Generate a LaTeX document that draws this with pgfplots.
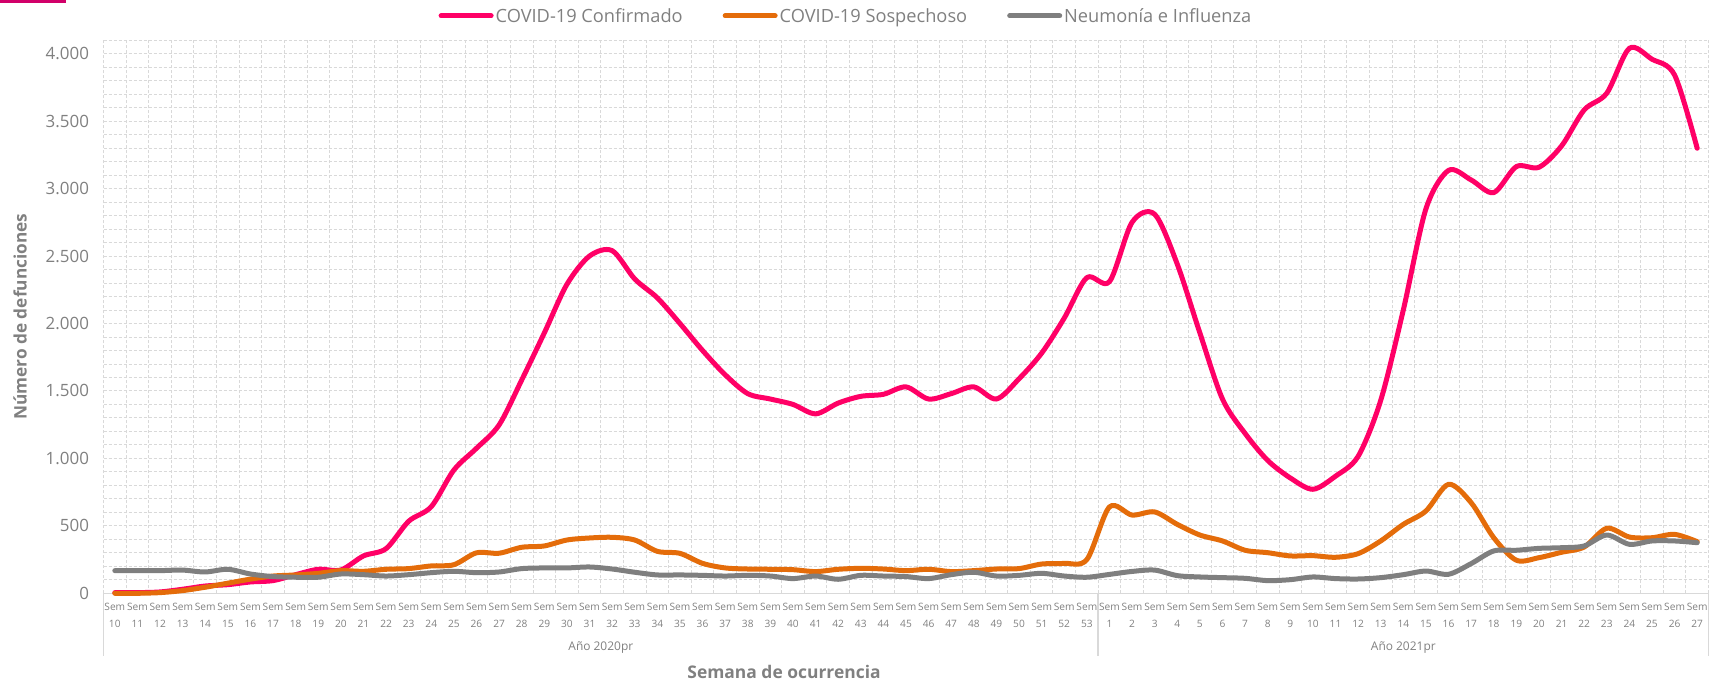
\documentclass[border=0pt]{standalone}
\usepackage{fontspec}
\setmainfont{Open Sans}
\usepackage{pgfplots}
\usepackage{pgfplotstable}
\pgfplotsset{compat=1.18}
\definecolor{confc}{HTML}{FF0066}
\definecolor{sospc}{HTML}{E46C0A}
\definecolor{neumc}{HTML}{7F7F7F}
\definecolor{txtc}{HTML}{808080}
\definecolor{gridc}{HTML}{D9D9D9}
\definecolor{topbar}{HTML}{D10069}

\pgfplotstableread{
x conf sosp neum
0 5 0 168
1 5 0 168
2 10 5 168
3 30 20 172
4 54 45 158
5 64 75 178
6 84 105 143
7 94 128 124
8 138 136 119
9 178 148 119
10 173 168 143
11 277 163 138
12 331 178 128
13 534 183 138
14 642 203 153
15 914 212 163
16 1075 300 153
17 1248 297 158
18 1581 341 183
19 1930 351 188
20 2290 395 188
21 2500 410 195
22 2540 415 180
23 2330 395 156
24 2190 311 136
25 2000 296 136
26 1800 222 133
27 1620 188 128
28 1480 180 133
29 1440 178 128
30 1400 175 109
31 1330 161 128
32 1410 178 104
33 1460 185 133
34 1475 180 128
35 1530 168 124
36 1440 178 109
37 1480 161 138
38 1530 168 156
39 1440 180 128
40 1590 183 133
41 1780 217 148
42 2040 222 128
43 2340 250 119
44 2310 640 140
45 2750 580 162
46 2810 603 172
47 2440 511 131
48 1930 432 121
49 1440 388 116
50 1185 319 111
51 985 301 94
52 855 277 101
53 771 279 121
54 868 267 109
55 1015 294 106
56 1430 388 116
57 2100 511 138
58 2850 610 165
59 3135 808 141
60 3064 672 220
61 2970 412 314
62 3163 245 319
63 3158 264 333
64 3316 304 338
65 3583 343 351
66 3707 482 432
67 4040 417 363
68 3959 412 388
69 3842 437 388
70 3299 383 375
}\datatable

\begin{document}
\begin{tikzpicture}[x=1bp,y=1bp]
\useasboundingbox (0,0) rectangle (1709,682);
\fill[topbar] (0,679) rectangle (66,682);
\begin{axis}[
  at={(103.5bp,88.7bp)}, anchor=south west,
  scale only axis, width=1605bp, height=553.1bp,
  xmin=-0.5, xmax=70.5, ymin=0, ymax=4100,
  clip=false,
  axis x line*=bottom, axis y line*=left,
  axis line style={-},
  x axis line style={draw=gridc, line width=1.5bp},
  y axis line style={draw=none},
  xtick={0,1,...,70},
  minor xtick={-0.5,0.5,...,70.5},
  ytick={0,500,...,4000},
  minor ytick={0,100,...,4100},
  major tick length=0pt, minor tick length=0pt,
  xminorgrids=true, yminorgrids=true, ymajorgrids=true, xmajorgrids=false,
  grid style={draw=gridc, dash pattern=on 3bp off 2bp, line width=0.9bp},
  minor grid style={draw=gridc, dash pattern=on 3bp off 2bp, line width=0.9bp},
  scaled y ticks=false,
  /pgf/number format/1000 sep={.},
  /pgf/number format/assume math mode=true,
  every y tick label/.append style={font=\fontsize{17}{20}\selectfont, text=txtc, xshift=-11bp},
  xticklabel={Sem\\\pgfmathtruncatemacro{\wk}{\tick<43.5 ? \tick+10 : \tick-43}\wk},
  every x tick label/.append style={font=\fontsize{10.2}{16.5}\selectfont, text=txtc, align=center, inner sep=2bp, yshift=-8bp},
  ylabel={Número de defunciones},
  ylabel style={at={(axis description cs:-0.052,0.5)}, anchor=center, rotate=0, font=\bfseries\fontsize{17.3}{20}\selectfont, text=txtc},
  xlabel={Semana de ocurrencia},
  xlabel style={at={(axis description cs:0.424,-0.142)}, anchor=center, font=\bfseries\fontsize{17.5}{20}\selectfont, text=txtc},
  legend style={at={(axis description cs:0.4626,1.044)}, anchor=center, draw=none, fill=none,
    legend columns=3, font=\fontsize{18.3}{22}\selectfont, text=txtc,
    /tikz/every even column/.append style={column sep=38bp}},
  legend image code/.code={\draw[#1,line width=5bp,line cap=round] (0bp,0bp) -- (50bp,0bp);},
  every axis plot/.append style={line width=5bp, line cap=round, line join=round, smooth, tension=0.5, no markers},
]
\addplot[confc] table[x=x, y=conf] {\datatable};
\addlegendentry{COVID-19 Confirmado}
\addplot[sospc] table[x=x, y=sosp] {\datatable};
\addlegendentry{COVID-19 Sospechoso}
\addplot[neumc] table[x=x, y=neum] {\datatable};
\addlegendentry{Neumonía e Influenza}
\draw[gridc, line width=1.5bp] (axis cs:-0.5,0) -- ++(0bp,-63bp);
\draw[gridc, line width=1.5bp] (axis cs:43.5,0) -- ++(0bp,-63bp);
\draw[gridc, line width=1.5bp] (axis cs:70.5,0) -- ++(0bp,-63bp);
\node[font=\fontsize{12}{14}\selectfont, text=txtc] at ([yshift=-54bp]axis cs:21.5,0) {Año 2020pr};
\node[font=\fontsize{12}{14}\selectfont, text=txtc] at ([yshift=-54bp]axis cs:57,0) {Año 2021pr};
\end{axis}
\end{tikzpicture}
\end{document}
